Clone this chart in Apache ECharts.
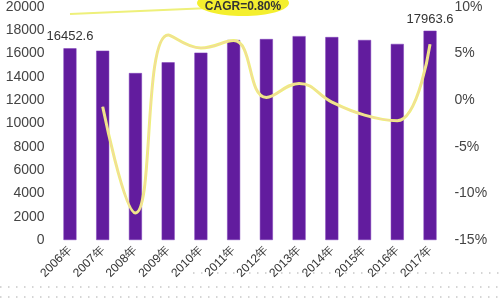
<!DOCTYPE html>
<html><head><meta charset="utf-8">
<script src="https://cdn.jsdelivr.net/npm/echarts@6/dist/echarts.min.js"></script>
<style>html,body{margin:0;padding:0;background:#fff}#c{width:500px;height:300px}</style>
</head><body><div id="c"></div>
<script>
const categories = ['2006年','2007年','2008年','2009年','2010年','2011年','2012年','2013年','2014年','2015年','2016年','2017年'];
const output = [16452.6,16250,14330,15250,16080,17170,17250,17500,17420,17170,16830,17963.6];
const growth = [null,-0.7,-12.1,7.0,5.6,6.4,0.3,1.8,-0.2,-1.6,-2.2,6.0];
const labeledIdx = [0, 11];
const cagrText = 'CAGR=0.80%';

const chart = echarts.init(document.getElementById('c'));
const font = 'Liberation Sans, Arial, sans-serif';
const dotRows = [];
[273, 287, 297].forEach((y, i) => {
  dotRows.push({type:'line', silent:true, z:-1, shape:{x1:i===0?193:0, y1:y, x2:500, y2:y},
    style:{stroke:'#c8c8c8', lineWidth:1.5, lineDash:[1.5,6.5]}});
});
chart.setOption({
  animation:false,
  grid:{left:53.6, right:53.6, top:0, bottom:60, containLabel:false},
  xAxis:{type:'category', data:categories,
    axisLine:{show:false}, axisTick:{show:false},
    axisLabel:{rotate:45, interval:0, fontSize:12, color:'#333', fontFamily:font, margin:8}},
  yAxis:[
    {type:'value', min:0, max:20000, interval:2000, splitLine:{show:false},
      axisLine:{show:false}, axisTick:{show:false},
      axisLabel:{formatter:v=>String(v), fontSize:14, color:'#444', fontFamily:font, margin:9}},
    {type:'value', min:-15, max:10, interval:5, splitLine:{show:false},
      axisLine:{show:false}, axisTick:{show:false},
      axisLabel:{formatter:'{value}%', fontSize:14, color:'#444', fontFamily:font, margin:8}}
  ],
  series:[
    {type:'bar', data:output.map((v,i)=>({value:v,
        label:{show:labeledIdx.includes(i), position:'top', distance:5, fontSize:13, color:'#333', fontFamily:font}})),
      barWidth:13, itemStyle:{color:'#621c9e', borderColor:'#7d3cb8', borderWidth:0.5}},
    {type:'line', yAxisIndex:1, data:growth, smooth:0.45, symbol:'none', connectNulls:false,
      lineStyle:{color:'#eef07a', width:3}},
    {type:'line', yAxisIndex:1, data:growth, smooth:0.45, symbol:'none',
      lineStyle:{color:'#f6d2a8', width:1}}
  ],
  graphic:[
    ...dotRows,
    {type:'line', silent:true, shape:{x1:70, y1:14, x2:210, y2:8}, style:{stroke:'#eef07a', lineWidth:2}},
    {type:'ellipse', silent:true, shape:{cx:243, cy:3, rx:46, ry:13}, style:{fill:'#f4ef2e'}},
    {type:'text', silent:true, x:243, y:7, style:{text:cagrText, fill:'#333', font:'bold 12px '+font, align:'center', verticalAlign:'middle'}}
  ]
});
</script></body></html>
